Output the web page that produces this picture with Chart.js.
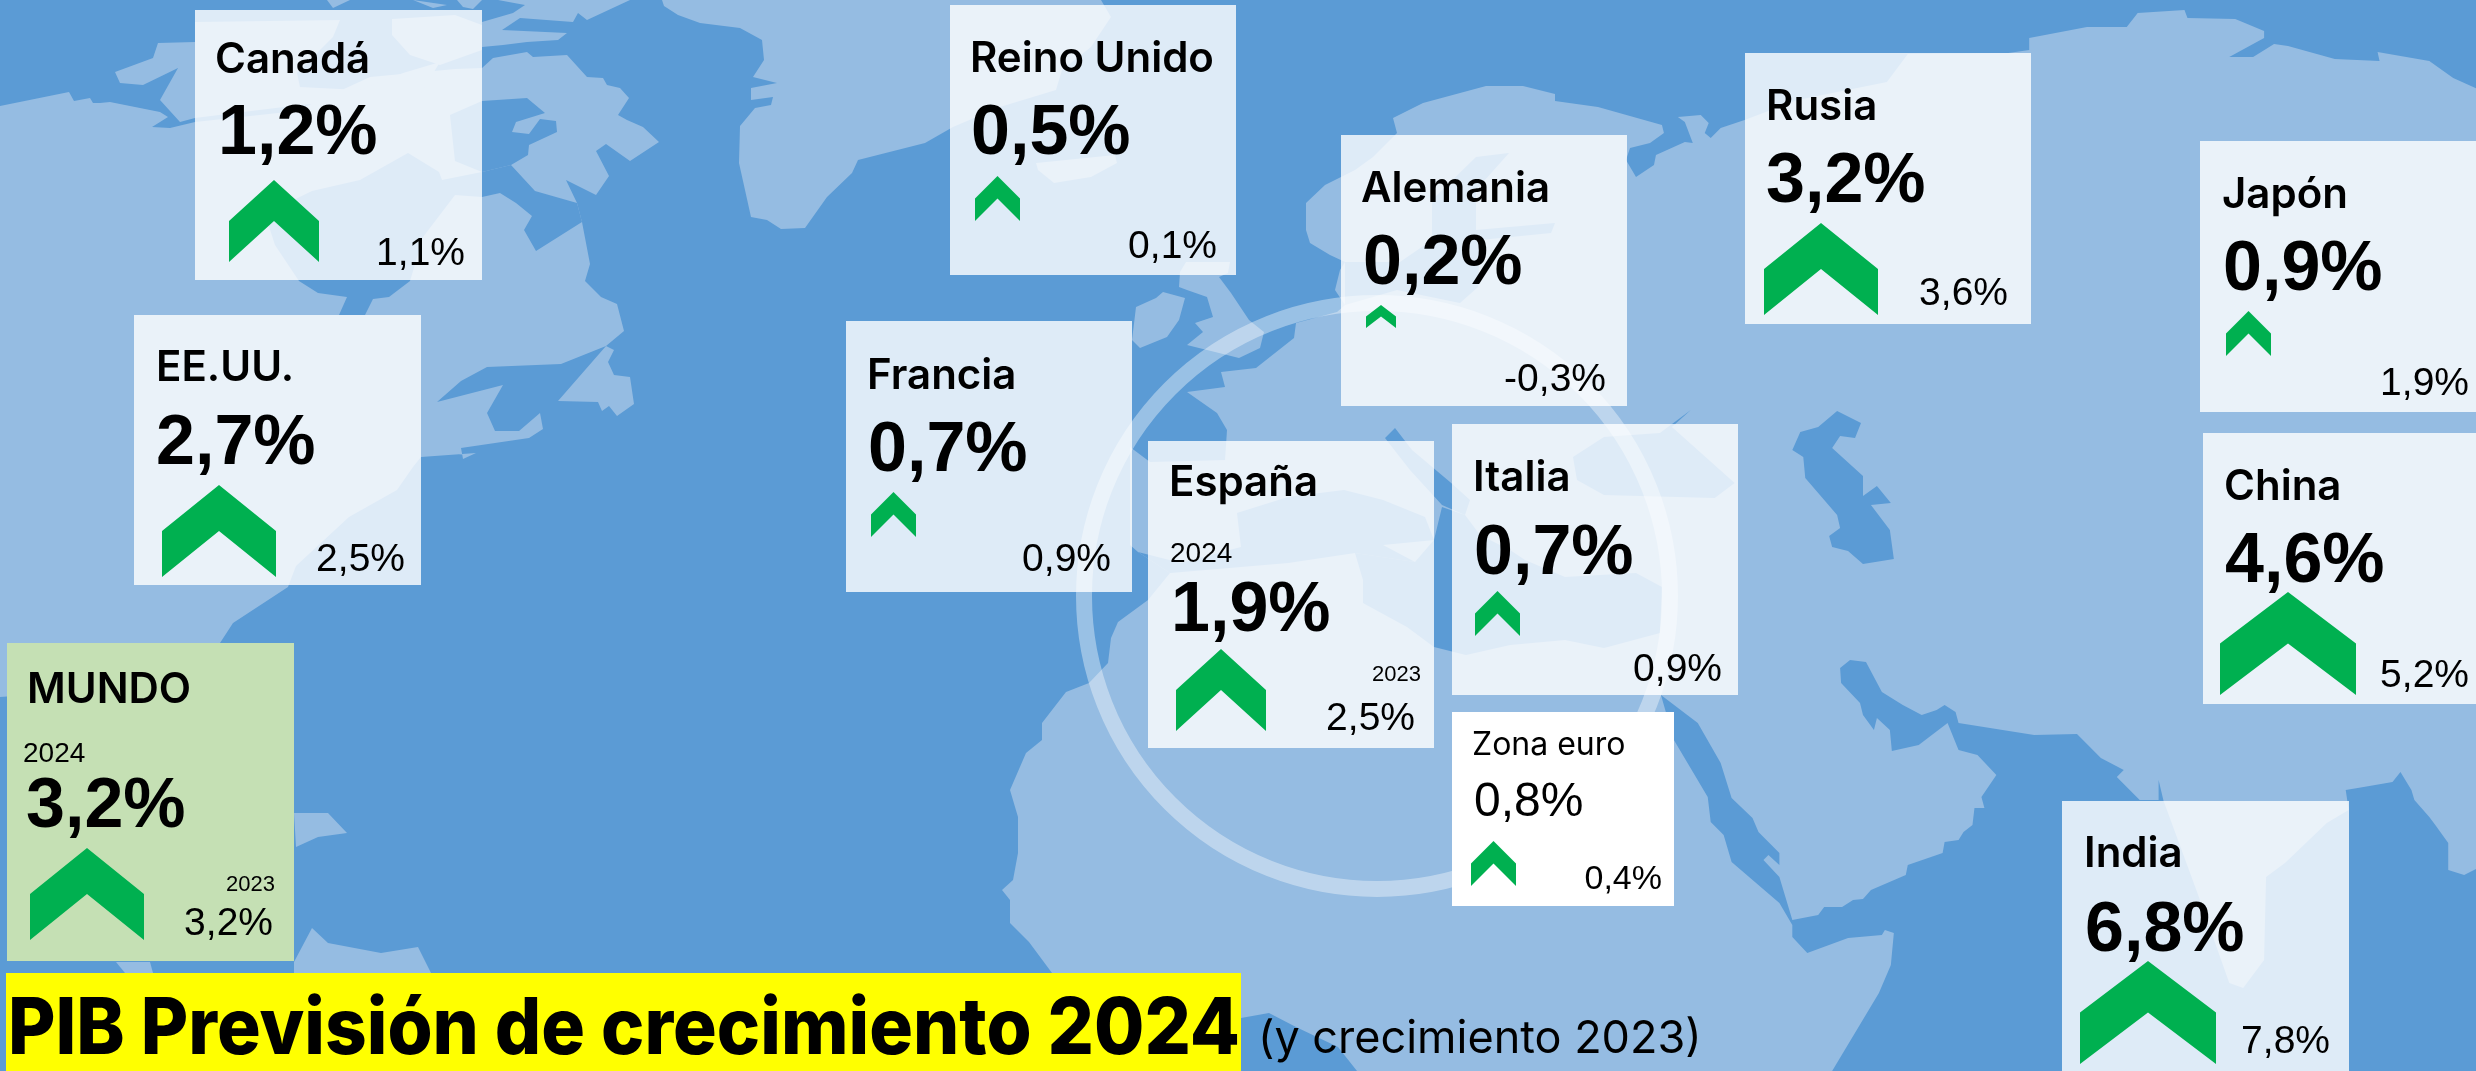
<!DOCTYPE html>
<html lang="es">
<head>
<meta charset="utf-8">
<title>PIB Previsión de crecimiento 2024</title>
<script src="https://cdn.jsdelivr.net/npm/chart.js@4/dist/chart.umd.min.js"></script>
<style>
html, body { margin: 0; padding: 0; background: #5B9BD5; overflow: hidden; }
canvas { display: block; }
</style>
</head>
<body>
<canvas id="gdpChart" width="2476" height="1071"></canvas>
<script>
// chart values
const regions = ['MUNDO', 'Canadá', 'EE.UU.', 'Reino Unido', 'Francia', 'Alemania', 'España', 'Italia', 'Zona euro', 'Rusia', 'Japón', 'China', 'India'];
const growth2024 = [3.2, 1.2, 2.7, 0.5, 0.7, 0.2, 1.9, 0.7, 0.8, 3.2, 0.9, 4.6, 6.8];
const growth2023 = [3.2, 1.1, 2.5, 0.1, 0.9, -0.3, 2.5, 0.9, 0.4, 3.6, 1.9, 5.2, 7.8];
const titleMain = 'PIB Previsión de crecimiento 2024';
const titleSub = '(y crecimiento 2023)';

// layout, one row per region: card x, y, w, h, name x, y, value x, y, previous right, y, arrow left, top
const cardLayout = [
    [7, 643, 287, 318, 27, 703, 26, 827, 273, 935, 30, 848],
    [195, 10, 287, 270, 215, 73, 218, 154, 465, 265, 229, 180],
    [134, 315, 287, 270, 156, 381, 156, 464, 405, 571, 162, 485],
    [950, 5, 286, 270, 970, 72, 971, 154, 1217, 258, 975, 176],
    [846, 321, 286, 271, 867, 389, 868, 471, 1111, 571, 871, 492],
    [1341, 135, 286, 271, 1361, 202, 1363, 284, 1606, 391, 1366, 305],
    [1148, 441, 286, 307, 1169, 496, 1171, 631, 1415, 730, 1176, 649],
    [1452, 424, 286, 271, 1473, 491, 1474, 574, 1722, 681, 1475, 591],
    [1452, 712, 222, 194, 1472, 755, 1474, 816, 1662, 889, 1471, 841],
    [1745, 53, 286, 271, 1766, 120, 1766, 202, 2008, 305, 1764, 223],
    [2200, 141, 287, 271, 2222, 208, 2223, 290, 2469, 395, 2226, 311],
    [2203, 433, 287, 271, 2224, 500, 2225, 582, 2469, 687, 2220, 592],
    [2062, 801, 287, 270, 2084, 867, 2085, 951, 2330, 1053, 2080, 961]
];
// small year captions on the two cards that carry them: text, x, y, font size, align
const yearLabels = [
    ['2024', 23, 762, 28, 'left'],
    ['2023', 275, 891, 22, 'right'],
    ['2024', 1170, 562, 28, 'left'],
    ['2023', 1421, 681, 22, 'right']
];

// background map, hand traced outlines in picture pixels
const seaColor = '#5B9BD5';
const landColor = '#95BCE2';
const landShapes = [
    // north america
    [0,106,69,92,74,101,90,98,93,103,100,103,110,102,160,112,168,117,152,127,170,128,195,122,296,111,370,77,455,69,482,68,493,58,527,52,533,57,567,55,587,77,603,78,607,85,620,88,629,98,618,115,627,120,643,127,659,142,630,161,606,144,596,151,609,176,596,195,566,180,577,203,582,222,590,264,585,281,601,297,617,304,624,331,606,346,561,364,487,367,461,381,437,402,503,385,487,413,495,431,519,431,540,413,543,429,529,438,461,448,463,459,476,453,421,457,413,467,397,490,349,517,296,566,288,587,233,623,220,643,100,690,0,697],
    [606,346,558,401,598,402,602,411,609,406,617,416,634,404,630,377,614,375,608,362,614,350],
    // arctic islands
    [115,72,153,58,158,43,195,42,195,22,340,20,333,37,297,73,300,87,360,90,403,73,440,62,420,95,300,105,195,118,180,122,160,100,178,68,143,85,120,83],
    [392,19,455,15,482,25,482,50,440,65,410,55,392,35],
    [327,0,350,0,333,8],
    [413,0,447,5,433,8],
    [457,0,482,0,473,9,463,7],
    [482,22,513,13,525,5,498,0,630,0,587,20,578,13,573,22,520,18,502,30,567,33,558,40,527,42,503,45,482,47],
    // greenland, iceland
    [662,0,664,6,678,15,700,23,740,28,762,40,764,60,753,77,777,83,751,88,751,100,773,97,771,105,755,108,740,126,739,163,751,217,767,220,781,229,805,228,827,197,852,173,858,160,925,143,953,127,1000,107,1056,90,1062,70,1091,47,1111,17,1101,0],
    [1036,163,1115,155,1117,163,1091,177,1054,183,1038,170],
    // caribbean and south america
    [294,813,328,813,347,833,318,837,296,847],
    [294,962,312,928,328,943,381,953,418,947,431,973,294,973],
    [116,962,150,962,153,973,125,973],
    // uk, ireland
    [1180,272,1186,262,1230,262,1228,273,1219,277,1231,293,1249,320,1264,332,1260,348,1239,358,1187,345,1203,332,1195,323,1213,317,1207,297,1187,290,1179,287],
    [1136,307,1156,298,1163,292,1185,298,1179,320,1167,337,1140,348,1132,340],
    // eurasia and africa
    [1052,973,1029,942,1010,923,1010,900,1002,890,1013,880,1018,853,1018,817,1010,790,1026,753,1042,740,1042,723,1066,692,1089,683,1108,663,1111,638,1118,622,1148,600,1170,573,1138,552,1130,545,1130,447,1150,462,1225,460,1227,430,1217,413,1187,392,1225,387,1221,372,1256,368,1294,338,1296,323,1337,312,1345,305,1335,290,1340,270,1345,262,1330,255,1310,243,1306,230,1306,203,1325,185,1341,177,1355,170,1373,157,1397,133,1393,118,1423,103,1486,86,1523,86,1555,94,1555,101,1598,107,1662,125,1664,133,1650,143,1630,148,1626,160,1636,177,1654,165,1656,155,1685,142,1693,143,1685,122,1678,117,1701,115,1709,123,1705,133,1711,138,1721,128,1745,120,1798,100,1888,82,1909,54,2010,53,2031,50,2031,38,2089,27,2129,27,2140,13,2187,10,2190,18,2238,19,2267,31,2267,38,2232,57,2256,57,2277,44,2291,46,2338,59,2383,61,2381,52,2433,61,2457,78,2488,92,2488,865,2468,875,2452,870,2452,843,2439,825,2433,817,2418,800,2415,790,2404,772,2396,782,2367,787,2349,790,2352,810,2330,823,2288,863,2269,877,2267,960,2246,988,2232,983,2200,893,2166,801,2161,780,2161,800,2142,800,2119,777,2126,770,2103,758,2079,734,2036,735,1960,723,1957,712,1946,705,1938,710,1923,715,1904,705,1883,692,1867,662,1851,660,1841,668,1842,683,1861,703,1864,715,1875,730,1878,718,1891,730,1893,751,1920,745,1949,723,1960,750,1979,755,1998,775,1983,797,1986,808,1976,808,1974,825,1965,832,1960,840,1946,842,1944,853,1909,865,1907,875,1872,890,1864,899,1854,900,1843,907,1825,907,1819,915,1793,920,1780,877,1764,860,1769,855,1780,865,1780,853,1759,832,1753,818,1732,798,1721,763,1698,723,1661,695,1674,740,1708,797,1711,822,1724,835,1732,862,1780,903,1793,925,1793,937,1808,953,1849,938,1883,935,1886,930,1895,933,1892,965,1880,993,1833,1071,1052,1071],
    [2488,1030,2480,1040,2488,1048]
];
const seaShapes = [
    // hudson bay, foxe basin
    [582,222,536,251,524,230,532,216,516,203,500,193,482,197,455,195,423,237,410,281,389,297,373,299,365,315,339,315,347,297,318,293,299,281,275,245,265,214,312,191,360,180,408,153,439,172,442,180,482,172,511,165,535,191,577,203],
    [482,101,527,98,545,113,516,122,512,132,529,134,540,119,556,121,557,132,529,145,528,155,511,165,482,172,455,161,450,115],
    // baltic
    [1432,200,1476,157,1509,153,1476,190,1476,230,1555,223,1551,233,1480,240,1478,287,1460,303,1397,290,1345,305,1345,262,1400,262,1432,240],
    // mediterranean, adriatic, black sea, caspian, gulf of guinea
    [1138,552,1181,563,1241,547,1237,513,1288,497,1344,490,1383,500,1425,517,1434,540,1383,545,1415,562,1355,553,1288,563,1170,573],
    [1434,540,1442,507,1465,515,1480,535,1510,550,1525,560,1565,577,1636,573,1662,587,1660,633,1604,648,1565,640,1510,645,1466,655,1434,647,1407,627,1363,603,1363,580,1355,553,1415,562],
    [1385,438,1395,428,1412,450,1450,482,1470,500,1465,515,1442,505,1410,470],
    [1573,457,1604,437,1660,433,1691,410,1672,427,1735,483,1715,498,1604,495,1577,480],
    [1838,411,1862,423,1856,438,1841,436,1833,448,1864,476,1864,496,1878,486,1892,503,1872,505,1891,530,1895,559,1864,564,1849,551,1833,547,1830,536,1841,528,1838,515,1806,478,1804,457,1793,450,1801,432,1819,427],
    [1241,1018,1269,1013,1296,1027,1338,1047,1357,1071,1241,1071]
];

const arrowGreen = '#00B050';
const nameFont = 'Inter, "Liberation Sans", sans-serif';
const numberFont = '"Liberation Sans", Arial, sans-serif';

function formatPct(v) {
    return v.toFixed(1).replace('.', ',') + '%';
}

// arrow size goes in steps with the forecast value
function arrowSize(v) {
    if (v < 0.3) return [30, 23];
    if (v < 1) return [45, 45];
    if (v < 2) return [90, 82];
    if (v < 4) return [114, 92];
    return [136, 103];
}

function makeArrow(v) {
    const [w, h] = arrowSize(v);
    const c = document.createElement('canvas');
    c.width = w;
    c.height = h;
    const g = c.getContext('2d');
    g.fillStyle = arrowGreen;
    g.beginPath();
    g.moveTo(w / 2, 0);
    g.lineTo(w, h / 2);
    g.lineTo(w, h);
    g.lineTo(w / 2, h / 2);
    g.lineTo(0, h);
    g.lineTo(0, h / 2);
    g.closePath();
    g.fill();
    return c;
}

const arrowPoints = growth2024.map((v, i) => {
    const [w, h] = arrowSize(v);
    return { x: cardLayout[i][10] + w / 2, y: cardLayout[i][11] + h / 2 };
});

// outlines east of 1650 were traced about 0.5% too wide
function mapX(x) {
    return x > 1650 ? 1650 + (x - 1650) * 0.9953 : x;
}

function fillShape(ctx, scales, pts, color) {
    ctx.fillStyle = color;
    ctx.beginPath();
    for (let i = 0; i < pts.length; i += 2) {
        const px = scales.x.getPixelForValue(mapX(pts[i]));
        const py = scales.y.getPixelForValue(pts[i + 1]);
        if (i === 0) ctx.moveTo(px, py);
        else ctx.lineTo(px, py);
    }
    ctx.closePath();
    ctx.fill();
}

const backgroundPlugin = {
    id: 'background',
    beforeDatasetsDraw(chart) {
        const ctx = chart.ctx;
        const { x, y } = chart.scales;
        ctx.save();
        ctx.fillStyle = seaColor;
        ctx.fillRect(0, 0, chart.width, chart.height);
        landShapes.forEach(s => fillShape(ctx, chart.scales, s, landColor));
        seaShapes.forEach(s => fillShape(ctx, chart.scales, s, seaColor));

        // ring around the mediterranean
        ctx.strokeStyle = 'rgba(255,255,255,0.38)';
        ctx.lineWidth = 16;
        ctx.beginPath();
        ctx.arc(x.getPixelForValue(1377), y.getPixelForValue(596), 293, 0, Math.PI * 2);
        ctx.stroke();

        // cards
        cardLayout.forEach((c, i) => {
            if (regions[i] === 'MUNDO') ctx.fillStyle = '#C5E0B4';
            else if (regions[i] === 'Zona euro') ctx.fillStyle = '#FFFFFF';
            else ctx.fillStyle = 'rgba(255,255,255,0.8)';
            ctx.fillRect(x.getPixelForValue(c[0]), y.getPixelForValue(c[1]), c[2], c[3]);
        });

        // yellow title band
        ctx.fillStyle = '#FFFF00';
        ctx.fillRect(6, 973, 1235, 98);
        ctx.restore();
    }
};

const labelsPlugin = {
    id: 'labels',
    afterDatasetsDraw(chart) {
        const ctx = chart.ctx;
        ctx.save();
        ctx.fillStyle = '#000000';
        ctx.textBaseline = 'alphabetic';
        regions.forEach((name, i) => {
            const c = cardLayout[i];
            const light = name === 'Zona euro';
            ctx.textAlign = 'left';
            ctx.font = (light ? '400 32px ' : '600 42px ') + nameFont;
            ctx.fillText(name, c[4], c[5]);
            ctx.font = (light ? '400 48px ' : '700 70px ') + numberFont;
            ctx.fillText(formatPct(growth2024[i]), c[6], c[7]);
            ctx.textAlign = 'right';
            ctx.font = (light ? '400 34px ' : '400 39px ') + numberFont;
            ctx.fillText(formatPct(growth2023[i]), c[8], c[9]);
        });
        yearLabels.forEach(l => {
            ctx.textAlign = l[4];
            ctx.font = '400 ' + l[3] + 'px ' + numberFont;
            ctx.fillText(l[0], l[1], l[2]);
        });
        ctx.textAlign = 'left';
        ctx.font = '800 78px ' + nameFont;
        ctx.fillText(titleMain, 8, 1054, 1232);
        ctx.font = '400 45px ' + nameFont;
        ctx.fillText(titleSub, 1258, 1053);
        ctx.restore();
    }
};

const ctx = document.getElementById('gdpChart').getContext('2d');
new Chart(ctx, {
    type: 'scatter',
    data: {
        labels: regions,
        datasets: [{
            label: 'Previsión 2024',
            data: arrowPoints,
            pointStyle: growth2024.map(makeArrow),
            pointRadius: 10,
            pointHoverRadius: 10,
            showLine: false,
            clip: false
        }]
    },
    options: {
        responsive: false,
        animation: false,
        layout: { padding: 0, autoPadding: false },
        plugins: { legend: { display: false }, tooltip: { enabled: false } },
        scales: {
            x: { type: 'linear', display: false, min: 0, max: 2476 },
            y: { type: 'linear', display: false, min: 0, max: 1071, reverse: true }
        }
    },
    plugins: [backgroundPlugin, labelsPlugin]
});
</script>
</body>
</html>
